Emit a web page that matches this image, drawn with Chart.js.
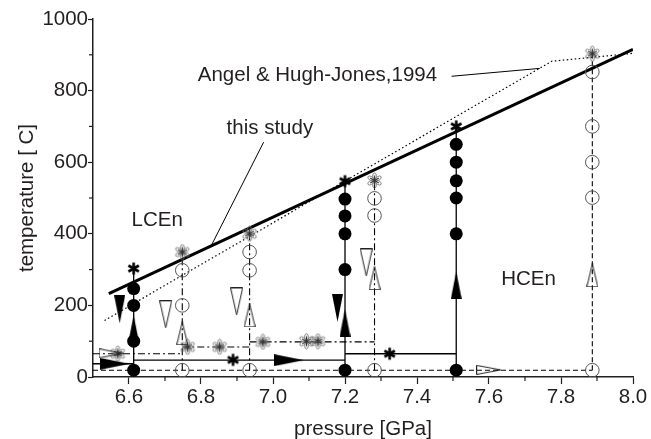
<!DOCTYPE html>
<html>
<head>
<meta charset="utf-8">
<script src="https://cdn.jsdelivr.net/npm/chart.js@4.4.1/dist/chart.umd.min.js"></script>
<style>
  html, body { margin: 0; padding: 0; background: #fff; }
  #c { display: block; }
</style>
</head>
<body>
<canvas id="c" width="651" height="439"></canvas>
<script>
// --- data, [pressure GPa, temperature C] ---
const filledCircles = [
  [6.613, 19], [6.613, 100], [6.613, 200], [6.613, 247],
  [7.2, 19], [7.2, 300], [7.2, 400], [7.2, 450], [7.2, 497],
  [7.509, 19], [7.509, 400], [7.509, 500], [7.509, 548], [7.509, 600], [7.509, 650]
];
const openCircles = [
  [6.748, 19], [6.748, 200], [6.748, 298],
  [6.935, 19], [6.935, 298], [6.935, 349],
  [7.282, 19], [7.282, 451], [7.282, 499],
  [7.887, 19], [7.887, 501], [7.887, 600], [7.887, 700], [7.887, 852]
];
const blackStars = [[6.613, 303], [6.889, 48], [7.2, 547], [7.324, 65], [7.509, 700]];
const greyStars = [
  [6.569, 65], [6.748, 349], [6.763, 84], [6.852, 84], [6.935, 400],
  [6.972, 98], [7.093, 100], [7.125, 100], [7.282, 549], [7.887, 903]
];
const filledUpArrows = [[6.613, 134], [7.2, 151], [7.509, 256]];
const filledDownArrows = [[6.574, 189], [7.179, 193]];
const filledRightArrows = [[6.56, 37], [7.044, 47]];
const openUpArrows = [[6.748, 122], [6.935, 172], [7.282, 276], [7.887, 284]];
const openDownArrows = [[6.702, 175], [6.899, 211], [7.259, 320]];
const openRightArrows = [[6.55, 66], [7.599, 20]];

// experiment paths
const solidPaths = [
  [[6.5, 37], [6.613, 37]],
  [[6.613, 19], [6.613, 303]],
  [[6.613, 47], [7.2, 47]],
  [[7.2, 19], [7.2, 547]],
  [[7.2, 65], [7.509, 65]],
  [[7.509, 19], [7.509, 700]]
];
const dashDotPaths = [
  [[6.5, 65], [6.748, 65]],
  [[6.748, 19], [6.748, 349]],
  [[6.748, 84], [6.935, 84]],
  [[6.935, 19], [6.935, 400]],
  [[6.935, 98], [7.282, 98]],
  [[7.282, 19], [7.282, 549]]
];
const dashedPaths = [
  [[6.5, 19], [7.887, 19]],
  [[7.887, 19], [7.887, 903]]
];

// phase boundaries
const thisStudy = [[6.544, 233], [8.0, 915]];
const angelHughJones = [[6.532, 158], [7.774, 882], [8.0, 904]];
const thisStudyLeader = [[6.829, 368], [6.974, 656]];
const angelLeader = [[7.496, 840], [7.741, 862]];

const xTicks = [6.6, 6.8, 7.0, 7.2, 7.4, 7.6, 7.8, 8.0];
const xMinor = [6.7, 6.9, 7.1, 7.3, 7.5, 7.7, 7.9];
const yTicks = [0, 200, 400, 600, 800, 1000];
const yMinor = [100, 300, 500, 700, 900];

const FONT = '"Liberation Sans", Arial, Helvetica, sans-serif';
const INK = '#231f20';
const FS = 20.5;

// small marker images
function marker(w, h, draw) {
  const c = document.createElement('canvas');
  c.width = w; c.height = h;
  draw(c.getContext('2d'), w, h);
  return c;
}
function tri(g, pts, filled) {
  g.beginPath();
  g.moveTo(pts[0][0], pts[0][1]);
  g.lineTo(pts[1][0], pts[1][1]);
  g.lineTo(pts[2][0], pts[2][1]);
  g.closePath();
  if (filled) { g.fillStyle = '#000'; g.fill(); }
  else { g.strokeStyle = '#222'; g.lineWidth = 1; g.stroke(); }
}
const mFilledUp = marker(11, 28, (g, w, h) => tri(g, [[w / 2, 0], [w, h], [0, h]], true));
const mFilledDown = marker(11, 28, (g, w, h) => tri(g, [[0, 0], [w, 0], [w / 2, h]], true));
const mFilledRight = marker(30, 12, (g, w, h) => tri(g, [[0, 0], [w, h / 2], [0, h]], true));
const mOpenUp = marker(12, 24, (g, w, h) => tri(g, [[w / 2, 0.5], [w - 0.5, h - 0.5], [0.5, h - 0.5]], false));
const mOpenDown = marker(13, 28, (g, w, h) => tri(g, [[0.5, 0.5], [w - 0.5, 0.5], [w / 2, h - 0.5]], false));
const mOpenRight = marker(25, 10, (g, w, h) => tri(g, [[0.5, 0.5], [w - 0.5, h / 2], [0.5, h - 0.5]], false));
const mStar = marker(15, 15, (g, w, h) => {
  g.strokeStyle = '#000'; g.lineWidth = 2.6;
  for (let k = 0; k < 3; k++) {
    const a = Math.PI / 2 + k * Math.PI / 3;
    g.beginPath();
    g.moveTo(w / 2 + 6 * Math.cos(a), h / 2 + 6 * Math.sin(a));
    g.lineTo(w / 2 - 6 * Math.cos(a), h / 2 - 6 * Math.sin(a));
    g.stroke();
  }
});
const mFlower = marker(17, 17, (g, w, h) => {
  g.strokeStyle = '#777'; g.lineWidth = 0.9;
  for (let k = 0; k < 6; k++) {
    const a = k * Math.PI / 3 + Math.PI / 2;
    g.beginPath();
    g.ellipse(w / 2 + 4.2 * Math.cos(a), h / 2 + 4.2 * Math.sin(a), 3.4, 1.9, a, 0, 2 * Math.PI);
    g.stroke();
  }
  g.strokeStyle = '#333'; g.lineWidth = 1.2;
  for (let k = 0; k < 3; k++) {
    const a = Math.PI / 2 + k * Math.PI / 3;
    g.beginPath();
    g.moveTo(w / 2 + 5 * Math.cos(a), h / 2 + 5 * Math.sin(a));
    g.lineTo(w / 2 - 5 * Math.cos(a), h / 2 - 5 * Math.sin(a));
    g.stroke();
  }
});

const pts = arr => arr.map(([x, y]) => ({ x, y }));

function lineSet(arr, width, dash) {
  return {
    data: pts(arr), showLine: true, borderColor: '#000', borderWidth: width,
    borderDash: dash, pointRadius: 0, fill: false, order: 2
  };
}
function markerSet(arr, style, extra) {
  return Object.assign({
    data: pts(arr), showLine: false, pointStyle: style, pointRadius: 8, order: 0
  }, extra || {});
}

const datasets = [];
solidPaths.forEach(p => datasets.push(lineSet(p, 1.3, [])));
dashDotPaths.forEach(p => datasets.push(lineSet(p, 1.1, [7, 3, 2, 3])));
dashedPaths.forEach(p => datasets.push(lineSet(p, 1.1, [5, 3])));
datasets.push(lineSet(thisStudy, 3, []));
datasets.push(lineSet(angelHughJones, 1.2, [1.5, 2.5]));
datasets.push(lineSet(thisStudyLeader, 1, []));
datasets.push(lineSet(angelLeader, 1, []));

datasets.push(markerSet(openCircles, 'circle', {
  pointRadius: 6.8, pointBorderColor: '#555', pointBorderWidth: 1, pointBackgroundColor: 'rgba(0,0,0,0)'
}));
datasets.push(markerSet(filledCircles, 'circle', {
  pointRadius: 6.5, pointBorderColor: '#000', pointBorderWidth: 0, pointBackgroundColor: '#000'
}));
datasets.push(markerSet(filledUpArrows, mFilledUp));
datasets.push(markerSet(filledDownArrows, mFilledDown));
datasets.push(markerSet(filledRightArrows, mFilledRight));
datasets.push(markerSet(openUpArrows, mOpenUp));
datasets.push(markerSet(openDownArrows, mOpenDown));
datasets.push(markerSet(openRightArrows, mOpenRight));
datasets.push(markerSet(greyStars, mFlower));
datasets.push(markerSet(blackStars, mStar));

// minor ticks drawn through the scales
const minorTicks = {
  id: 'minorTicks',
  afterDraw(chart) {
    const { ctx, scales: { x, y }, chartArea } = chart;
    ctx.save();
    ctx.strokeStyle = INK; ctx.lineWidth = 1.2;
    xMinor.forEach(v => {
      const px = x.getPixelForValue(v);
      ctx.beginPath(); ctx.moveTo(px, chartArea.bottom); ctx.lineTo(px, chartArea.bottom + 4); ctx.stroke();
    });
    yMinor.forEach(v => {
      const py = y.getPixelForValue(v);
      ctx.beginPath(); ctx.moveTo(chartArea.left, py); ctx.lineTo(chartArea.left - 4, py); ctx.stroke();
    });
    ctx.restore();
  }
};

// text labels inside the plot
const plotLabels = {
  id: 'plotLabels',
  afterDatasetsDraw(chart) {
    const { ctx, scales: { x, y } } = chart;
    ctx.save();
    ctx.fillStyle = INK;
    ctx.font = FS + 'px ' + FONT;
    ctx.textAlign = 'left';
    ctx.textBaseline = 'alphabetic';
    ctx.fillText('Angel & Hugh-Jones,1994', x.getPixelForValue(6.791), y.getPixelForValue(826));
    ctx.fillText('this study', x.getPixelForValue(6.871), y.getPixelForValue(678));
    ctx.fillText('LCEn', x.getPixelForValue(6.607), y.getPixelForValue(423));
    ctx.fillText('HCEn', x.getPixelForValue(7.634), y.getPixelForValue(256));
    ctx.restore();
  }
};

new Chart(document.getElementById('c'), {
  type: 'scatter',
  data: { datasets },
  options: {
    responsive: false,
    animation: false,
    events: [],
    layout: { padding: { top: 19, right: 18, left: 0, bottom: 0 } },
    plugins: { legend: { display: false }, tooltip: { enabled: false } },
    scales: {
      x: {
        type: 'linear', min: 6.5, max: 8.0,
        afterBuildTicks: s => { s.ticks = xTicks.map(v => ({ value: v })); },
        afterFit: s => { s.height = 62; },
        grid: { drawOnChartArea: false, drawTicks: true, tickLength: 7, tickColor: INK, tickWidth: 1.2 },
        border: { color: INK, width: 1.5 },
        ticks: {
          callback: v => v.toFixed(1), color: INK, padding: 1,
          font: { family: FONT, size: FS }, maxRotation: 0, autoSkip: false
        },
        title: {
          display: true, text: 'pressure [GPa]', color: INK,
          font: { family: FONT, size: FS }, padding: { top: 0, bottom: -3 }
        }
      },
      y: {
        type: 'linear', min: 0, max: 1000,
        afterBuildTicks: s => { s.ticks = yTicks.map(v => ({ value: v })); },
        afterFit: s => { s.width = 93; },
        grid: { drawOnChartArea: false, drawTicks: true, tickLength: 5, tickColor: INK, tickWidth: 1.2 },
        border: { color: INK, width: 1.5 },
        ticks: {
          callback: v => String(v), color: INK, padding: 0,
          font: { family: FONT, size: FS }
        },
        title: {
          display: true, text: 'temperature [ C]', color: INK,
          font: { family: FONT, size: FS }, padding: { top: 15, bottom: 0 }
        }
      }
    }
  },
  plugins: [minorTicks, plotLabels]
});
</script>
</body>
</html>
